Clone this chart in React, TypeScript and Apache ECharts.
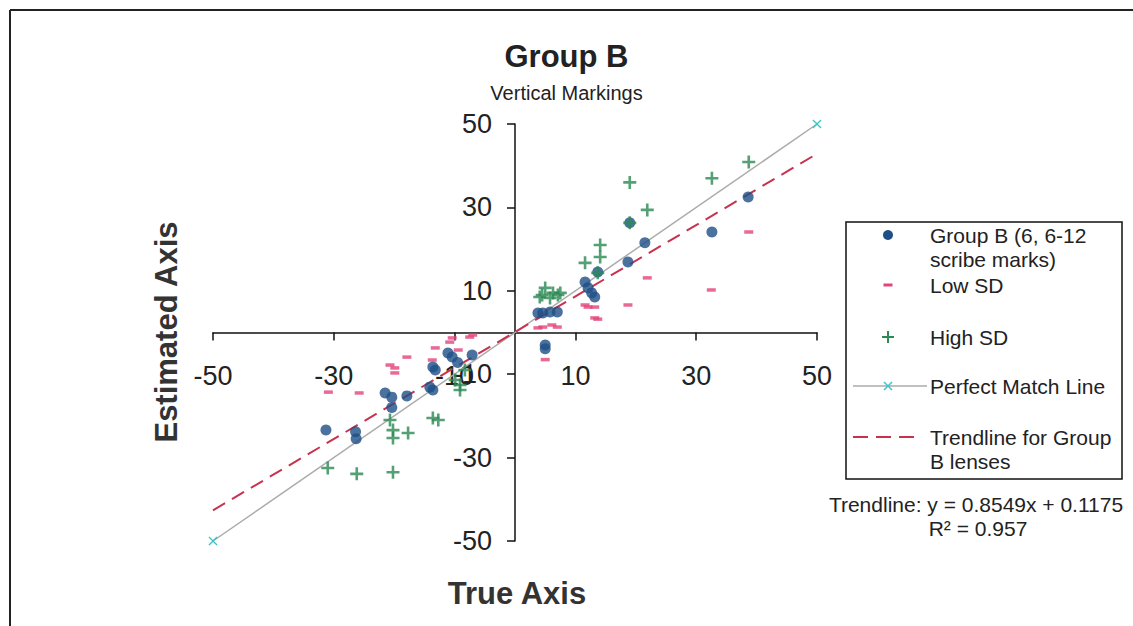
import React, { useEffect, useRef } from "react";
import * as echarts from "echarts";

const xTicks = { min: -50, max: 50, interval: 20 };
const yTicks = { min: -50, max: 50, interval: 20 };

const groupB: number[][] = [
  [-31.3, -23.4],
  [-26.4, -23.8], [-26.3, -25.5],
  [-21.5, -14.5], [-20.4, -15.5], [-17.9, -15.2], [-20.4, -18],
  [-11.1, -4.9], [-10.4, -5.9], [-13.6, -8.3], [-13.2, -9], [-7.1, -5.4],
  [-13.6, -13.8], [-14.1, -13.1], [-9.5, -7.2],
  [3.8, 4.7], [4.6, 4.7], [5.8, 4.9], [7, 4.9], [5, -3], [5, -3.9],
  [11.6, 12.1], [12.1, 10.7], [12.7, 9.5], [13.2, 8.5], [13.7, 14.5],
  [18.7, 16.9], [19, 26.3], [21.5, 21.5], [32.6, 24.1], [38.6, 32.5],
];

const lowSD: number[][] = [
  [-30.9, -14.3], [-25.8, -14.5], [-20.7, -7.8], [-19.9, -8.5], [-19.9, -9.7], [-17.9, -5.9],
  [-13.7, -6.6], [-13.2, -3.7], [-10.8, -2.3], [-10.4, -1.3], [-9.4, -4.2], [-7.5, -1.1], [-7, -0.6],
  [3.8, 1.1], [4.6, 1.3], [6.1, 1.8], [7, 1.3], [5, -6.5],
  [11.6, 6.6], [12.1, 6.1], [13.2, 6.1], [13.2, 3.5], [13.7, 3.2],
  [18.7, 6.6], [21.9, 13.1], [32.5, 10.2], [38.7, 24.1],
];

const highSD: number[][] = [
  [-31, -32.5], [-26.2, -33.9], [-20.2, -33.5],
  [-20.7, -21], [-20.2, -23.4], [-20.2, -25.3], [-17.7, -24.1],
  [-13.6, -20.5], [-12.7, -21], [-9.9, -11.4], [-9.1, -13.8], [-8.3, -9], [-9.1, -12.6],
  [4.1, 8.5], [4.5, 9], [5, 10.7], [5.8, 8.3], [6.3, 9.5], [7.1, 9], [7.5, 9.5],
  [11.6, 16.7], [13.7, 14.3], [14.1, 18.1], [14.1, 21], [19, 36], [19, 26.3], [21.9, 29.4],
  [32.6, 37], [38.7, 40.9],
];

const perfectMatch: number[][] = [[-50, -50], [50, 50]];
const trendline: number[][] = [[-50, -42.63], [50, 42.86]];

const titleText = "Group B";
const subtitleText = "Vertical Markings";
const xName = "True Axis";
const yName = "Estimated Axis";
const legendLabels = [
  "Group B (6, 6-12\nscribe marks)",
  "Low SD",
  "High SD",
  "Perfect Match Line",
  "Trendline for Group\nB lenses",
];
const trendText1 = "Trendline: y = 0.8549x + 0.1175";
const trendText2 = "R\u00B2 = 0.957";

const BLUE = "#1e4f86";
const PINK = "#e2447c";
const GREEN = "#2b8a52";
const GRAY = "#ababab";
const CYAN = "#36c4c8";
const RED = "#c8324f";
const FONT = "'Liberation Sans', Arial, sans-serif";

const PLUS = "path://M4,0H6V4H10V6H6V10H4V6H0V4H4Z";
const CROSS = "path://M0,1L1,0L5,4L9,0L10,1L6,5L10,9L9,10L5,6L1,10L0,9L4,5Z";

export default function App() {
  const ref = useRef<HTMLDivElement>(null);
  useEffect(() => {
    if (!ref.current) return;
    const chart = echarts.init(ref.current, null, { renderer: "svg" });
    const lx = 888;
    const tx = 930;
    const rowY = [235, 285, 337, 386, 437];
    const LH = 24;
    const lbl = (t: string, y: number) => ({
      type: "text",
      x: tx,
      y: y - LH / 2,
      style: { text: t, fill: "#222", font: `21px ${FONT}`, lineHeight: LH, verticalAlign: "top" },
    });
    const gridLeft = 213;
    const gridTop = 124;
    const gridW = 604;
    const gridH = 417;
    const zeroY = gridTop + gridH / 2;
    const zeroX = gridLeft + gridW / 2;
    chart.setOption({
      animation: false,
      backgroundColor: "#fff",
      title: {
        text: titleText,
        subtext: subtitleText,
        left: "center",
        top: 36,
        itemGap: 11,
        textStyle: { fontFamily: FONT, fontSize: 31, fontWeight: "bold", color: "#222" },
        subtextStyle: { fontFamily: FONT, fontSize: 20, color: "#222" },
      },
      grid: { left: gridLeft, top: gridTop, width: gridW, height: gridH, containLabel: false },
      xAxis: {
        type: "value",
        min: xTicks.min,
        max: xTicks.max,
        interval: xTicks.interval,
        position: "bottom",
        offset: -(gridTop + gridH - zeroY),
        axisLine: { onZero: false, lineStyle: { color: "#111", width: 1.5 } },
        axisTick: { show: true, length: 8, lineStyle: { color: "#111", width: 1.5 } },
        axisLabel: { fontFamily: FONT, fontSize: 27, color: "#222", margin: 30, showMinLabel: true, showMaxLabel: true },
        splitLine: { show: false },
      },
      yAxis: {
        type: "value",
        min: yTicks.min,
        max: yTicks.max,
        interval: yTicks.interval,
        position: "left",
        offset: -(zeroX - gridLeft),
        axisLine: { onZero: false, lineStyle: { color: "#111", width: 1.5 } },
        axisTick: { show: true, length: 8, lineStyle: { color: "#111", width: 1.5 } },
        axisLabel: { fontFamily: FONT, fontSize: 27, color: "#222", margin: 23, showMinLabel: true, showMaxLabel: true },
        splitLine: { show: false },
      },
      series: [
        {
          name: "Perfect Match Line",
          type: "line",
          data: perfectMatch,
          symbol: CROSS,
          symbolSize: 9,
          itemStyle: { color: CYAN },
          lineStyle: { color: GRAY, width: 1.5 },
          z: 2,
        },
        {
          name: "Trendline for Group B lenses",
          type: "line",
          data: trendline,
          showSymbol: false,
          lineStyle: { color: RED, width: 2, type: [14, 8] },
          z: 2,
        },
        {
          name: "Low SD",
          type: "scatter",
          data: lowSD,
          symbol: "rect",
          symbolSize: [9, 3.5],
          itemStyle: { color: PINK },
          z: 3,
        },
        {
          name: "Group B",
          type: "scatter",
          data: groupB,
          symbol: "circle",
          symbolSize: 11,
          itemStyle: { color: BLUE },
          z: 4,
        },
        {
          name: "High SD",
          type: "scatter",
          data: highSD,
          symbol: PLUS,
          symbolSize: 13,
          itemStyle: { color: GREEN },
          z: 5,
        },
      ],
      graphic: [
        { type: "line", shape: { x1: 10, y1: 10, x2: 1133, y2: 10 }, style: { stroke: "#222", lineWidth: 2 } },
        { type: "line", shape: { x1: 10, y1: 10, x2: 10, y2: 626 }, style: { stroke: "#222", lineWidth: 2 } },
        {
          type: "text",
          x: 517,
          y: 593,
          style: { text: xName, font: `bold 31px ${FONT}`, fill: "#333", align: "center", verticalAlign: "middle" },
        },
        {
          type: "text",
          x: 166,
          y: 332,
          rotation: Math.PI / 2,
          style: { text: yName, font: `bold 31px ${FONT}`, fill: "#333", align: "center", verticalAlign: "middle" },
        },
        {
          type: "rect",
          shape: { x: 846, y: 222, width: 276, height: 257 },
          style: { fill: "#fff", stroke: "#111", lineWidth: 1.5 },
        },
        { type: "circle", shape: { cx: lx, cy: rowY[0], r: 5 }, style: { fill: BLUE } },
        { type: "rect", shape: { x: lx - 4.5, y: rowY[1] - 1.5, width: 9, height: 3 }, style: { fill: PINK } },
        { type: "rect", shape: { x: lx - 6, y: rowY[2] - 1, width: 12, height: 2 }, style: { fill: GREEN } },
        { type: "rect", shape: { x: lx - 1, y: rowY[2] - 6, width: 2, height: 12 }, style: { fill: GREEN } },
        { type: "line", shape: { x1: 853, y1: rowY[3], x2: 927, y2: rowY[3] }, style: { stroke: GRAY, lineWidth: 1.5 } },
        { type: "line", shape: { x1: lx - 4, y1: rowY[3] - 4, x2: lx + 4, y2: rowY[3] + 4 }, style: { stroke: CYAN, lineWidth: 1.5 } },
        { type: "line", shape: { x1: lx - 4, y1: rowY[3] + 4, x2: lx + 4, y2: rowY[3] - 4 }, style: { stroke: CYAN, lineWidth: 1.5 } },
        { type: "line", shape: { x1: 853, y1: rowY[4], x2: 919, y2: rowY[4] }, style: { stroke: RED, lineWidth: 2, lineDash: [15, 8] } },
        lbl(legendLabels[0], rowY[0]),
        lbl(legendLabels[1], rowY[1]),
        lbl(legendLabels[2], rowY[2]),
        lbl(legendLabels[3], rowY[3]),
        lbl(legendLabels[4], rowY[4]),
        {
          type: "text",
          x: 976,
          y: 504,
          style: { text: trendText1, font: `21px ${FONT}`, fill: "#222", align: "center", verticalAlign: "middle" },
        },
        {
          type: "text",
          x: 978,
          y: 528,
          style: { text: trendText2, font: `21px ${FONT}`, fill: "#222", align: "center", verticalAlign: "middle" },
        },
      ],
    });
    return () => chart.dispose();
  }, []);
  return (
    <div
      ref={ref}
      style={{ position: "fixed", left: 0, top: 0, width: 1133, height: 626, background: "#fff" }}
    />
  );
}
